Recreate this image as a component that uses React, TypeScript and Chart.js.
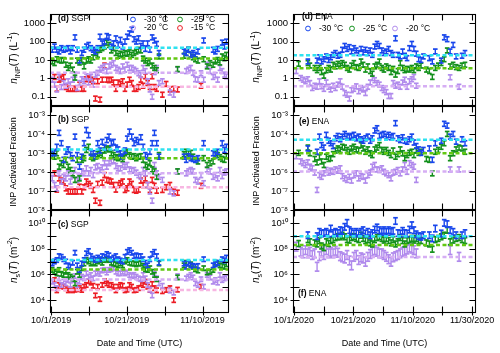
import React, { useEffect, useRef } from 'react';
import { Chart, registerables } from 'chart.js';

Chart.register(...registerables);

const _ = null;
const FONT = "'Liberation Sans', Arial, Helvetica, sans-serif";

// ---------------- SGP (days since 10/1/2019 00:00 UTC) ----------------
const sgpDays = [0.3,0.9,1.5,2.1,2.7,3.3,3.9,4.5,5.1,5.7,6.3,6.9,7.5,8.1,8.7,9.3,9.9,10.5,11.1,11.7,12.3,12.9,13.5,14.1,14.7,15.3,15.9,16.5,17.1,17.7,18.3,18.9,19.5,20.1,20.7,21.3,21.9,22.5,23.1,23.7,24.3,24.9,25.5,26.1,26.7,27.3,27.9,28.5,
  29.4,30.4,31.4,32.4,33.4,34.3,
  35.1,35.7,36.3,36.9,37.5,38.1,38.8,39.6,40.3,41.2,42.0,42.8,43.4,44.0,44.6,45.2,45.8,46.3];

// n_INP (L^-1)
const sgpN30 = [36,54,36,29,44,36,40,44,29,44,170,36,9.5,24,36,54,66,44,36,29,44,185,80,100,200,170,54,80,150,66,125,54,100,185,280,450,135,100,150,58,80,40,80,36,170,115,75,24,
  _,_,_,_,_,_,
  29,24,36,19,24,19,29,_,115,_,_,36,29,40,_,88,54,100];
const sgpN25 = [8.3,6.8,11,10,9.3,10,5.5,3.7,5,3,1.1,9.3,7.3,10,4.5,9.3,11,9.3,14,24,19,36,44,54,88,66,33,44,24,17,22,19,24,22,26,19,24,29,36,33,12,9.3,6.8,8.3,5,3.7,2.8,15.6,
  _,_,_,_,3.2,_,
  17,24,36,19,14,11,9.3,_,11,4.5,6.8,5.5,8.3,10,7.3,15.6,12.5,19];
const sgpN20 = [0.85,0.46,0.25,1.2,0.34,0.56,0.4,0.7,0.46,0.85,1.6,0.3,0.56,0.9,0.7,1.3,0.6,1.2,0.46,1.6,2,3,3.7,4.5,2.5,4.5,5.5,6.8,3.7,3,2.5,4.5,3,5.5,3.7,3.7,3,2.5,1.9,1.5,3.7,2.5,0.7,0.25,0.1,2.2,3.7,0.56,
  0.7,_,0.17,0.13,3,_,
  _,2.5,3,3.7,2,0.9,0.85,1.9,0.85,5.5,2.5,1.2,1.5,0.85,3.7,2.5,1.6,1.3];
const sgpN15 = [_,1.2,0.27,0.85,1,1.2,0.34,0.27,0.27,0.27,0.27,0.27,0.46,0.27,0.27,0.9,1,0.85,0.7,0.08,0.7,0.07,0.85,5,0.85,0.8,0.85,0.6,0.27,0.6,0.5,0.7,0.27,0.46,0.85,0.56,0.27,0.27,0.34,0.85,0.4,1.3,0.56,0.34,1.3,0.34,0.27,_,
  0.13,0.5,0.25,0.27,0.25,_,
  _,_,_,_,_,_,_,0.4,_,_,_,_,_,_,_,_,_,_];

// INP activated fraction
const sgpF30 = [1e-5,1.05e-5,2.2e-5,1.2e-4,3.4e-5,4.5e-6,1.2e-5,1.6e-5,8e-6,5.5e-6,7.6e-5,8e-6,1.95e-6,6.6e-6,3.4e-5,1.7e-4,9e-5,1.05e-5,1e-5,7e-6,3.4e-5,1.4e-5,4e-5,2e-5,5e-5,7.6e-5,3.4e-5,4e-5,2e-5,1.6e-5,1e-5,6.6e-6,1.4e-5,6e-5,1.4e-4,7.6e-5,3.4e-5,5e-5,4e-5,7e-5,2.2e-5,8e-6,6.6e-6,1.2e-5,3.4e-5,1.2e-4,3.4e-5,6.6e-6,
  _,_,_,_,_,_,
  6.6e-6,4.5e-6,7e-6,5.5e-6,5e-6,4.5e-6,5.5e-6,_,3.4e-5,_,_,1e-5,8e-6,1.2e-5,_,3.4e-5,1.5e-5,2.2e-5];
const sgpF25 = [8e-6,6.6e-6,1e-5,1.95e-6,3e-6,2.4e-6,4.5e-6,1.95e-6,1.3e-6,8.7e-7,3.9e-7,4.5e-6,4.7e-7,4.5e-6,5.5e-6,1.5e-5,2.2e-5,6.6e-6,5.5e-6,6.6e-6,9e-6,1.05e-5,8e-6,1.4e-5,1.8e-5,1.6e-5,1e-5,8e-6,6.2e-6,5.5e-6,6.6e-6,5e-6,1e-5,1.2e-5,8e-6,6.6e-6,7e-6,5.5e-6,6.6e-6,7e-6,4.5e-6,2.4e-6,1.95e-6,3e-6,1.4e-6,1.1e-6,5.7e-7,8e-6,
  _,_,_,_,1.1e-6,_,
  9e-6,1.2e-5,1e-5,1.05e-5,6.6e-6,4.5e-6,3.7e-6,_,5.5e-6,2.4e-6,3e-6,3.7e-6,1e-5,8e-6,6.2e-6,5e-6,4.5e-6,7e-6];
const sgpF20 = [4.7e-7,2.1e-7,1.4e-7,8.7e-7,3.2e-7,5.7e-7,4.7e-7,8.7e-7,3.2e-7,7e-7,1.3e-6,3.9e-7,5.7e-7,1.1e-6,8.7e-7,1.6e-6,8.7e-7,1.3e-6,7e-7,1.8e-6,2.1e-6,1.3e-6,1.8e-6,3e-6,1.95e-6,3e-6,3.7e-6,4.2e-6,2.1e-6,1.6e-6,1.6e-6,2.4e-6,1.95e-6,2.4e-6,1.4e-6,1.2e-6,1.3e-6,9.5e-7,7e-7,5.7e-7,1.3e-6,8.7e-7,2.1e-7,9.5e-8,3.1e-8,2.4e-6,8.7e-7,5.7e-7,
  3.9e-7,_,9.5e-8,7.6e-8,1.1e-6,_,
  _,8.7e-7,1.1e-6,1.3e-6,1.1e-6,3.9e-7,3.2e-7,7e-7,2.6e-7,1.4e-6,1.1e-6,5.7e-7,7e-7,4.7e-7,1.3e-6,6.2e-7,9.5e-7,1.1e-6];
const sgpF15 = [_,8.7e-7,1.2e-7,4.7e-7,3.6e-7,3.2e-7,1.4e-7,9.5e-8,9.5e-8,9.5e-8,9.5e-8,9.5e-8,1.7e-7,9.5e-8,1.6e-7,3.2e-7,2.4e-7,1.9e-7,1.15e-7,3.1e-8,2.4e-7,2.4e-8,2.8e-7,7e-7,3.9e-7,3.6e-7,3.2e-7,2.1e-7,1.2e-7,2.1e-7,2.6e-7,3.2e-7,1.15e-7,1.4e-7,3.2e-7,2.4e-7,1.15e-7,1.05e-7,1.2e-7,3.6e-7,2.1e-7,4.7e-7,2.1e-7,1.15e-7,3.9e-7,1.9e-7,1.05e-7,_,
  1.15e-7,1.6e-7,2.1e-7,9.5e-8,8.2e-8,_,
  _,_,_,_,_,_,_,1.9e-7,_,_,_,_,_,_,_,_,_,_];

// n_s (m^-2)
const sgpS30 = [7e6,1e7,1.3e7,2.6e7,2.3e7,1.5e7,1e7,5e6,3.9e6,8e6,4.8e7,5e6,2.2e6,7e6,1.3e7,4.3e7,6.5e7,2.6e7,1.7e7,1.3e7,2e7,1.5e7,2.6e7,2.3e7,3.8e7,3e7,1.5e7,2e7,2.6e7,1.5e7,1.2e7,1e7,2.3e7,5.6e7,7.6e7,4.8e7,2.6e7,3e7,2.6e7,2.6e7,1.5e7,8e6,5e6,1.5e7,3.8e7,5.6e7,2.6e7,8e6,
  _,_,_,_,_,_,
  7e6,3.9e6,7e6,5e6,4.5e6,3.9e6,4.5e6,_,1.5e7,_,_,5e6,6e6,8e6,_,1.5e7,1.2e7,2e7];
const sgpS25 = [2.2e6,1.6e6,1.2e6,2.2e6,1.1e6,9e5,1.6e6,9e5,6.6e5,4.9e5,2e5,1.6e6,9e5,3e6,7e6,1.3e7,1e7,7e6,8e6,7e6,1e7,1.2e7,8e6,1.3e7,1.5e7,1.3e7,8e6,7e6,6e6,5e6,7e6,5e6,1e7,1.3e7,8e6,7e6,7e6,6e6,7e6,7e6,4.5e6,2.5e6,2.2e6,3e6,1.6e6,9e5,4.2e5,7e6,
  _,_,_,_,5.8e5,_,
  5e6,8e6,7e6,6e6,3.9e6,2.5e6,2e6,_,3e6,1.4e6,1.6e6,2.2e6,8e6,7e6,5e6,4.5e6,3.9e6,6e6];
const sgpS20 = [2.7e5,1.5e5,8.5e4,4.9e5,1.5e5,2.7e5,2e5,3.6e5,1.5e5,3.6e5,7.3e5,1.5e5,2.7e5,6.6e5,4.9e5,1.2e6,6.6e5,9e5,4.9e5,1.2e6,1.6e6,1.1e6,2e6,2.2e6,1.4e6,2.2e6,2.5e6,3e6,1.6e6,1.2e6,1.2e6,1.6e6,1.2e6,1.4e6,9e5,7.3e5,9e5,6.6e5,4.9e5,4.2e5,9e5,4.9e5,1.5e5,6.5e4,2.3e4,1.2e6,4.9e5,2e5,
  1.3e5,_,5.5e4,3.8e4,7.3e5,_,
  _,4.9e5,6.6e5,9e5,5.8e5,2e5,1.5e5,4.2e5,1.1e5,9e5,5.8e5,2.7e5,3.6e5,2.3e5,9e5,3.6e5,4.9e5,5.8e5];
const sgpS15 = [_,3.6e5,5.8e4,1.5e5,1.3e5,1.1e5,8.5e4,5.8e4,6.5e4,5.8e4,6.5e4,7e4,8.5e4,6.2e4,1.1e5,1.5e5,3e5,2.3e5,1.3e5,2.3e4,1.1e5,1.2e4,1.5e5,3e5,2e5,1.5e5,1.5e5,1.1e5,5.8e4,1.1e5,1.5e5,1.3e5,5.8e4,6.5e4,1.5e5,1.1e5,5.8e4,6.2e4,8.5e4,2e5,1.5e5,2.7e5,1.1e5,6.2e4,1.8e5,8.5e4,5.8e4,_,
  4.9e4,6.2e4,8.5e4,1e4,6.5e4,_,
  _,_,_,_,_,_,_,1.1e5,_,_,_,_,_,_,_,_,_,_];

const sgpMeanN = [46, 12, 2.0, 0.35];
const sgpMeanF = [1.6e-5, 5.5e-6, 8.7e-7, 1.6e-7];
const sgpMeanS = [1.3e7, 2.4e6, 4e5, 6e4];

// ---------------- ENA (days since 10/1/2020 00:00 UTC) ----------------
const enaDays = [0.8,1.6,2.3,3.1,3.9,4.7,5.4,6.2,7.0,7.8,8.6,9.3,10.1,10.9,11.7,12.4,13.2,14.0,14.8,15.6,16.3,17.1,17.9,18.7,19.4,20.2,21.0,21.8,22.6,23.3,24.1,24.9,25.7,26.4,27.2,28.0,28.8,29.6,30.3,31.1,31.9,32.7,33.4,34.2,35.0,35.8,36.6,37.3,38.1,38.9,39.7,40.4,41.2,42.0,42.8,43.6,
  44.6,45.6,46.6,47.6,48.6,49.6,50.6,51.6,52.6,53.6,54.6,55.6,56.6,57.6,58.6,59.6];

const enaN30 = [_,_,_,_,_,8.3,_,_,_,9.3,14,8.3,11,15.6,10,14,19,24,17,19,36,58,40,50,29,44,33,24,40,26,36,24,33,19,54,75,58,33,24,29,40,24,19,150,19,15.6,29,17,12.6,44,75,40,22,11,10,15.6,
  _,12.6,8.3,29,_,9.3,170,135,29,66,15.6,_,17,24,_,_];
const enaN25 = [_,6.2,_,_,_,6.8,5,_,3.7,2.8,3.7,2.2,1.4,2.8,3.7,3,5.5,4.5,6.2,5,6.8,5.5,3.7,3,5,6.8,4.1,3.7,8.3,5.5,3,4.5,2.5,1.8,4.5,5.5,8.3,3.7,3,4.5,3.7,2.2,3.3,1.6,2.5,6.8,3.7,2.8,3.3,3,3.7,2.8,4.5,3.7,5,_,
  3,2.5,1.2,3.7,5,6.8,11,33,4.5,5.5,4.1,3.7,5,5.5,_,_];
const enaN20 = [2.5,_,1.05,0.85,0.7,0.9,0.56,0.3,0.4,0.35,0.7,0.37,0.27,0.6,0.35,0.25,0.4,0.3,0.46,0.7,0.35,0.16,0.13,0.08,0.23,0.27,0.37,0.2,0.3,0.25,0.16,0.35,0.6,1.05,0.8,0.56,0.46,0.3,0.23,0.18,0.11,0.11,0.56,0.4,0.46,0.35,0.6,0.85,0.35,0.7,0.9,1.2,0.4,_,_,_,
  _,_,_,_,_,_,_,_,1.15,_,_,0.35,_,_,_,_];

const enaF30 = [_,_,_,_,_,1.8e-5,_,_,_,1.2e-5,7.6e-5,2.7e-5,2e-5,9.4e-5,4.6e-5,3.4e-5,2.4e-5,6.2e-5,8.2e-5,5.5e-5,7.6e-5,1.05e-4,8.2e-5,7e-5,8.2e-5,9.4e-5,6.2e-5,7.6e-5,5.5e-5,4.6e-5,6.2e-5,7.6e-5,4.6e-5,6.2e-5,1.6e-4,2.1e-4,8.2e-5,9.4e-5,1.05e-4,7.6e-5,9.4e-5,7e-5,8.2e-5,3.9e-4,6.2e-5,5e-5,7e-5,4.6e-5,4.1e-5,5.5e-5,7.6e-5,3.7e-5,2.4e-5,1.6e-5,1.05e-5,1.5e-5,
  _,1.8e-5,4.5e-6,3.4e-5,_,4.6e-5,3.6e-4,2.9e-4,7.6e-5,1.05e-4,4.1e-5,_,5.5e-5,3.4e-5,_,_];
const enaF25 = [_,1.05e-5,_,_,_,2e-5,1e-5,_,5e-6,3.3e-6,6.2e-6,3.7e-6,2.4e-6,6.6e-6,5e-6,5.5e-6,9e-6,1.4e-5,1.8e-5,1.5e-5,2.2e-5,2e-5,1.5e-5,1.2e-5,1.8e-5,2.2e-5,1.6e-5,1.4e-5,2.7e-5,1.8e-5,1.2e-5,1.6e-5,1e-5,8e-6,1.6e-5,2e-5,2.7e-5,1.5e-5,1.2e-5,1.5e-5,1.05e-5,8e-6,1.4e-5,6.6e-6,9e-6,1.6e-5,1e-5,5.5e-6,8e-6,1.05e-5,1.2e-5,8e-6,1.4e-5,1.05e-5,1.2e-5,_,
  5e-6,4.5e-6,8.7e-7,1.2e-5,1.5e-5,2.2e-5,3.4e-5,1.05e-4,5.5e-6,1e-5,1.6e-5,2e-5,1.8e-5,1.2e-5,_,_];
const enaF20 = [7e-6,_,3.7e-6,3e-6,2.4e-6,3.3e-6,1.95e-6,1.6e-6,9.5e-7,1.15e-7,7e-7,5.7e-7,8.7e-7,1.3e-6,9.5e-7,1.2e-6,1.05e-6,1.4e-6,1.2e-6,1.6e-6,6.2e-7,4.7e-7,3.9e-7,5.7e-7,3.6e-7,7e-7,8.7e-7,4.7e-7,6.2e-7,5.7e-7,3.6e-7,7e-7,9.5e-7,1.95e-6,2.4e-6,1.4e-6,1.3e-6,1.6e-6,1.05e-6,8.7e-7,7e-7,4.7e-7,9.5e-7,1.05e-6,1.3e-6,8.7e-7,1.4e-6,2.4e-6,1.05e-6,3e-6,2.4e-6,1.95e-6,3.9e-7,_,_,_,
  _,_,_,_,_,_,_,_,1.4e-6,_,_,1.4e-6,_,_,_,_];

const enaS30 = [_,_,_,_,_,1.1e9,_,_,_,9.3e8,2e9,1.5e9,1.6e9,2e9,1.5e9,3.6e9,1.6e9,2e9,1.6e9,2.7e9,2.4e9,4.9e9,1e10,2.7e9,2e9,1.5e9,2e9,1.5e9,2e9,2.7e9,1.5e9,2e9,1.1e9,1.6e9,3e9,4.4e9,2.7e9,2e9,2.7e9,2e9,2.7e9,2e9,2.4e9,1.4e10,1.6e9,1.5e9,2.4e9,1.6e9,1.5e9,3e9,6.6e9,2.7e9,1.3e9,9.3e8,8.3e8,1.1e9,
  _,1.1e9,6.2e8,3.6e9,_,1.5e9,1e10,8e9,2.7e9,2e9,1.1e9,_,1.1e9,1.6e9,_,_];
const enaS25 = [_,2.5e8,_,_,_,5e8,3.4e8,_,2.8e8,2.3e8,4.2e8,1.6e8,1.2e8,3.4e8,2.5e8,4.2e8,5e8,7.2e8,8.5e8,8.3e8,1.1e9,8.3e8,5e8,4.6e8,7.2e8,8.5e8,6.2e8,5e8,1.1e9,6.2e8,4.2e8,5e8,2.8e8,2.3e8,5e8,7.2e8,8.5e8,6.2e8,4.6e8,6.2e8,4.2e8,2.8e8,5e8,2.3e8,3.4e8,7.2e8,4.2e8,2.3e8,4.2e8,5e8,6.2e8,4.6e8,6.2e8,4.2e8,4.2e8,_,
  2.8e8,2.3e8,9e7,5e8,6.2e8,8.3e8,1.1e9,2.7e9,3.4e8,4.6e8,6.2e8,7.2e8,5e8,4.2e8,_,_];
const enaS20 = [1.4e8,_,5.7e7,4.3e7,7.6e7,4.3e7,5.7e7,3.2e7,4.3e7,3.9e6,2.6e7,5.7e7,3.2e7,7.6e7,4.3e7,5.7e7,4.3e7,6.8e7,4.8e7,2.6e7,2.1e7,1.7e7,3.2e7,1.2e7,5e6,2.3e7,3.2e7,1.3e7,2.1e7,1.7e7,9.5e6,2.3e7,3.8e7,5.7e7,7.6e7,5.7e7,4.3e7,4.3e7,3.2e7,2.3e7,1.5e7,9.5e6,2.1e7,2.6e7,3.2e7,4.3e7,5.7e7,6.8e7,8.5e7,1.2e8,1e8,7.6e7,4.3e7,_,_,_,
  _,_,_,_,_,_,_,_,7.6e7,_,_,2.3e7,_,_,_,_];

const enaMeanN = [18, 3.6, 0.38];
const enaMeanF = [5.2e-5, 1e-5, 1.1e-6];
const enaMeanS = [9e8, 1.9e8, 2.2e7];

// ---------------- axes / labels ----------------
const seriesLabels = ['-30 °C', '-25 °C', '-20 °C', '-15 °C'];
const sgpXTicks = [0, 10, 20, 30, 40];
const sgpXLabels = ['10/1/2019', '', '10/21/2019', '', '11/10/2019'];
const enaXTicks = [0, 10, 20, 30, 40, 50, 60];
const enaXLabels = ['10/1/2020', '', '10/21/2020', '', '11/10/2020', '', '11/30/2020'];
const nYRange = [Math.pow(10, -1.5), Math.pow(10, 3.5)];
const nYTicks = [0.1, 1, 10, 100, 1000];
const nYLabels = ['0.1', '1', '10', '100', '1000'];
const fYRange = [1e-8, Math.pow(10, -2.5)];
const fYTicks = [1e-8, 1e-7, 1e-6, 1e-5, 1e-4, 1e-3];
const fYLabels = ['10⁻⁸', '10⁻⁷', '10⁻⁶', '10⁻⁵', '10⁻⁴', '10⁻³'];
const sYRange = [1e3, 1e11];
const sYTicks = [1e4, 1e5, 1e6, 1e7, 1e8, 1e9, 1e10];
const sYLabels = ['10⁴', '', '10⁶', '', '10⁸', '', '10¹⁰'];
const xTitle = 'Date and Time (UTC)';

// ---------------- styles ----------------
const PT = ['#1846ec', '#13901c', '#b08aec', '#ec1c24'];
const MEAN = ['#2ee2f0', '#62c812', '#d6aef4', '#f7b6e2'];

type Seg = { t: string; f?: 'i' | 'sub' | 'sup' };
const titleN: Seg[] = [{ t: 'n', f: 'i' }, { t: 'INP', f: 'sub' }, { t: '(' }, { t: 'T', f: 'i' }, { t: ') (L' }, { t: '-1', f: 'sup' }, { t: ')' }];
const titleF: Seg[] = [{ t: 'INP Activated Fraction' }];
const titleS: Seg[] = [{ t: 'n', f: 'i' }, { t: 's', f: 'sub' }, { t: '(' }, { t: 'T', f: 'i' }, { t: ') (m' }, { t: '-2', f: 'sup' }, { t: ')' }];

const W = 250;
const H = 353;

const SGP = { colX: 0, days: sgpDays, xMin: -0.3, xMax: 47.0, xTicks: sgpXTicks, xLabels: sgpXLabels, left: 50, right: 229, titleX: 13 };
const ENA = { colX: 250, days: enaDays, xMin: -0.3, xMax: 61.3, xTicks: enaXTicks, xLabels: enaXLabels, left: 43, right: 226, titleX: 5.5 };

const panels: any[] = [
  { ...SGP, values: [sgpN30, sgpN25, sgpN20, sgpN15], means: sgpMeanN, err: [1.36, 1.36, 1.36, 1.36], yRange: nYRange, yTicks: nYTicks, yLabels: nYLabels,
    top: 14, bottom: 106, showX: false, title: titleN, titleY: 58, titleSize: 10, tag: '(d)', site: 'SGP', tagX: 58, tagY: 18.5,
    legend: [[133, 19.5], [180, 19.5], [133, 28], [180, 28]] },
  { ...SGP, values: [sgpF30, sgpF25, sgpF20, sgpF15], means: sgpMeanF, err: [1.36, 1.36, 1.36, 1.36], yRange: fYRange, yTicks: fYTicks, yLabels: fYLabels,
    top: 106, bottom: 210, showX: false, title: titleF, titleY: 162, titleSize: 9, tag: '(b)', site: 'SGP', tagX: 58, tagY: 120 },
  { ...SGP, values: [sgpS30, sgpS25, sgpS20, sgpS15], means: sgpMeanS, err: [1.5, 1.5, 1.5, 1.5], yRange: sYRange, yTicks: sYTicks, yLabels: sYLabels,
    top: 210, bottom: 313, showX: true, title: titleS, titleY: 260, titleSize: 10, tag: '(c)', site: 'SGP', tagX: 58, tagY: 225 },
  { ...ENA, values: [enaN30, enaN25, enaN20], means: enaMeanN, err: [1.36, 1.36, 1.36], yRange: nYRange, yTicks: nYTicks, yLabels: nYLabels,
    top: 14, bottom: 106, showX: false, title: titleN, titleY: 57, titleSize: 10, tag: '(d)', site: 'ENA', tagX: 52, tagY: 16.5,
    legend: [[58, 28.5], [102, 28.5], [145, 28.5]] },
  { ...ENA, values: [enaF30, enaF25, enaF20], means: enaMeanF, err: [1.36, 1.36, 1.36], yRange: fYRange, yTicks: fYTicks, yLabels: fYLabels,
    top: 106, bottom: 210, showX: false, title: titleF, titleY: 161, titleSize: 9, tag: '(e)', site: 'ENA', tagX: 49, tagY: 122 },
  { ...ENA, values: [enaS30, enaS25, enaS20], means: enaMeanS, err: [1.8, 1.7, 2.2], yRange: sYRange, yTicks: sYTicks, yLabels: sYLabels,
    top: 210, bottom: 313, showX: true, title: titleS, titleY: 260, titleSize: 10, tag: '(f)', site: 'ENA', tagX: 48, tagY: 294 },
];

function drawRich(ctx: CanvasRenderingContext2D, segs: Seg[], cx: number, cy: number, size: number) {
  ctx.save();
  ctx.translate(cx, cy);
  ctx.rotate(-Math.PI / 2);
  ctx.fillStyle = '#000';
  ctx.textAlign = 'left';
  ctx.textBaseline = 'alphabetic';
  const fontOf = (s: Seg) => {
    const small = s.f === 'sub' || s.f === 'sup';
    return `${s.f === 'i' ? 'italic ' : ''}${small ? size * 0.72 : size}px ${FONT}`;
  };
  const widths = segs.map((s) => { ctx.font = fontOf(s); return ctx.measureText(s.t).width; });
  const total = widths.reduce((a, b) => a + b, 0);
  let x = -total / 2;
  const base = size * 0.36;
  segs.forEach((s, i) => {
    ctx.font = fontOf(s);
    const dy = s.f === 'sub' ? size * 0.3 : s.f === 'sup' ? -size * 0.42 : 0;
    ctx.fillText(s.t, x, base + dy);
    x += widths[i];
  });
  ctx.restore();
}

function makePlugin(p: any) {
  return {
    id: 'panelDeco',
    afterDatasetDraw(chart: any, args: any) {
      const ds = chart.data.datasets[args.index];
      if (!ds.isErr) return;
      const ys = chart.scales.y;
      const ctx: CanvasRenderingContext2D = chart.ctx;
      const a = chart.chartArea;
      ctx.save();
      ctx.beginPath();
      ctx.rect(a.left, a.top, a.right - a.left, a.bottom - a.top);
      ctx.clip();
      ctx.fillStyle = ds.borderColor;
      args.meta.data.forEach((el: any, j: number) => {
        const v = ds.data[j].y;
        const x = el.x;
        const t = ys.getPixelForValue(v * ds.errFactor);
        const b = ys.getPixelForValue(v / ds.errFactor);
        ctx.fillRect(x - 0.7, t, 1.4, b - t);
        ctx.fillRect(x - 2.3, t - 0.8, 4.6, 1.7);
        ctx.fillRect(x - 2.3, b - 0.9, 4.6, 1.7);
      });
      ctx.restore();
    },
    afterDraw(chart: any) {
      const ctx: CanvasRenderingContext2D = chart.ctx;
      const a = chart.chartArea;
      const xs = chart.scales.x;
      const ys = chart.scales.y;
      const L = Math.round(a.left) + 0.5;
      const R = Math.round(a.right) - 0.5;
      const T = Math.round(a.top) + 0.5;
      const B = Math.round(a.bottom) - 0.5;
      ctx.save();
      ctx.strokeStyle = '#000';
      ctx.lineWidth = 1.1;
      ctx.strokeRect(L, T, R - L, B - T);
      ctx.beginPath();
      ys.ticks.forEach((t: any) => {
        const y = Math.round(ys.getPixelForValue(t.value)) + 0.5;
        ctx.moveTo(L - 3, y); ctx.lineTo(L + 6, y);
        ctx.moveTo(R - 6, y); ctx.lineTo(R, y);
      });
      xs.ticks.forEach((t: any) => {
        const x = Math.round(xs.getPixelForValue(t.value)) + 0.5;
        ctx.moveTo(x, B + (p.showX ? 3 : 0)); ctx.lineTo(x, B - 6);
        ctx.moveTo(x, T); ctx.lineTo(x, T + 6);
      });
      ctx.stroke();

      drawRich(ctx, p.title, p.titleX, p.titleY, p.titleSize);

      ctx.fillStyle = '#000';
      ctx.textBaseline = 'middle';
      ctx.textAlign = 'left';
      ctx.font = `bold 8.5px ${FONT}`;
      ctx.fillText(p.tag, p.tagX, p.tagY);
      const w = ctx.measureText(p.tag).width;
      ctx.font = `8.5px ${FONT}`;
      ctx.fillText(' ' + p.site, p.tagX + w, p.tagY);

      if (p.legend) {
        p.legend.forEach((pos: number[], i: number) => {
          ctx.beginPath();
          ctx.arc(pos[0], pos[1], 2.4, 0, Math.PI * 2);
          ctx.strokeStyle = PT[i];
          ctx.lineWidth = 1;
          ctx.stroke();
          ctx.fillStyle = '#000';
          ctx.font = `8.5px ${FONT}`;
          ctx.fillText(seriesLabels[i], pos[0] + 11, pos[1]);
        });
      }
      ctx.restore();
    },
  };
}

function makeConfig(p: any) {
  const scatter = p.values.map((vals: (number | null)[], si: number) => ({
    type: 'scatter',
    label: seriesLabels[si],
    data: p.days.map((d: number, j: number) => (vals[j] == null ? null : { x: d, y: vals[j] })).filter((o: any) => o),
    borderColor: PT[si],
    backgroundColor: PT[si],
    pointRadius: 0,
    pointHoverRadius: 0,
    pointHitRadius: 0,
    order: 1,
    isErr: true,
    errFactor: p.err[si],
  }));
  const means = p.means.map((m: number, si: number) => ({
    type: 'line',
    label: 'mean ' + seriesLabels[si],
    data: [{ x: p.xMin, y: m }, { x: p.xMax, y: m }],
    borderColor: MEAN[si],
    borderWidth: 2.5,
    borderDash: [4, 2.5],
    pointRadius: 0,
    showLine: true,
    fill: false,
    order: 0,
  }));
  return {
    type: 'scatter',
    data: { datasets: [...scatter, ...means] },
    options: {
      animation: false,
      responsive: false,
      maintainAspectRatio: false,
      devicePixelRatio: 1,
      events: [],
      layout: { padding: { left: 0, right: W - p.right, top: p.top, bottom: p.showX ? 0 : H - p.bottom } },
      plugins: { legend: { display: false }, tooltip: { enabled: false } },
      scales: {
        x: {
          type: 'linear',
          min: p.xMin,
          max: p.xMax,
          bounds: 'data',
          grid: { display: false, drawTicks: false },
          border: { display: false },
          afterBuildTicks: (s: any) => { s.ticks = p.xTicks.map((v: number) => ({ value: v })); },
          afterFit: (s: any) => { s.height = p.showX ? H - p.bottom : 0; s.paddingLeft = 0; s.paddingRight = 0; },
          ticks: {
            display: p.showX,
            autoSkip: false,
            maxRotation: 0,
            padding: 2,
            color: '#000',
            font: { family: FONT, size: 9 },
            callback: (_v: any, i: number) => p.xLabels[i],
          },
          title: { display: p.showX, text: xTitle, color: '#000', font: { family: FONT, size: 9 }, padding: { top: 0, bottom: 4 } },
        },
        y: {
          type: 'logarithmic',
          min: p.yRange[0],
          max: p.yRange[1],
          bounds: 'data',
          grid: { display: false, drawTicks: false },
          border: { display: false },
          afterBuildTicks: (s: any) => { s.ticks = p.yTicks.map((v: number) => ({ value: v })); },
          afterFit: (s: any) => { s.width = p.left; s.paddingTop = 0; s.paddingBottom = 0; },
          ticks: {
            autoSkip: false,
            padding: 5,
            color: '#000',
            font: { family: FONT, size: 9.5 },
            callback: (_v: any, i: number) => p.yLabels[i],
          },
        },
      },
    },
    plugins: [makePlugin(p)],
  };
}

function PanelChart({ p }: { p: any }) {
  const ref = useRef<HTMLCanvasElement>(null);
  useEffect(() => {
    if (!ref.current) return;
    const chart = new Chart(ref.current, makeConfig(p) as any);
    return () => chart.destroy();
  }, [p]);
  return (
    <canvas
      ref={ref}
      width={W}
      height={H}
      style={{ position: 'absolute', left: p.colX, top: 0, width: W, height: H }}
    />
  );
}

export default function App() {
  return (
    <div style={{ position: 'absolute', left: 0, top: 0, width: 500, height: 353, background: '#fff', overflow: 'hidden' }}>
      {panels.map((p, i) => (
        <PanelChart key={i} p={p} />
      ))}
    </div>
  );
}
